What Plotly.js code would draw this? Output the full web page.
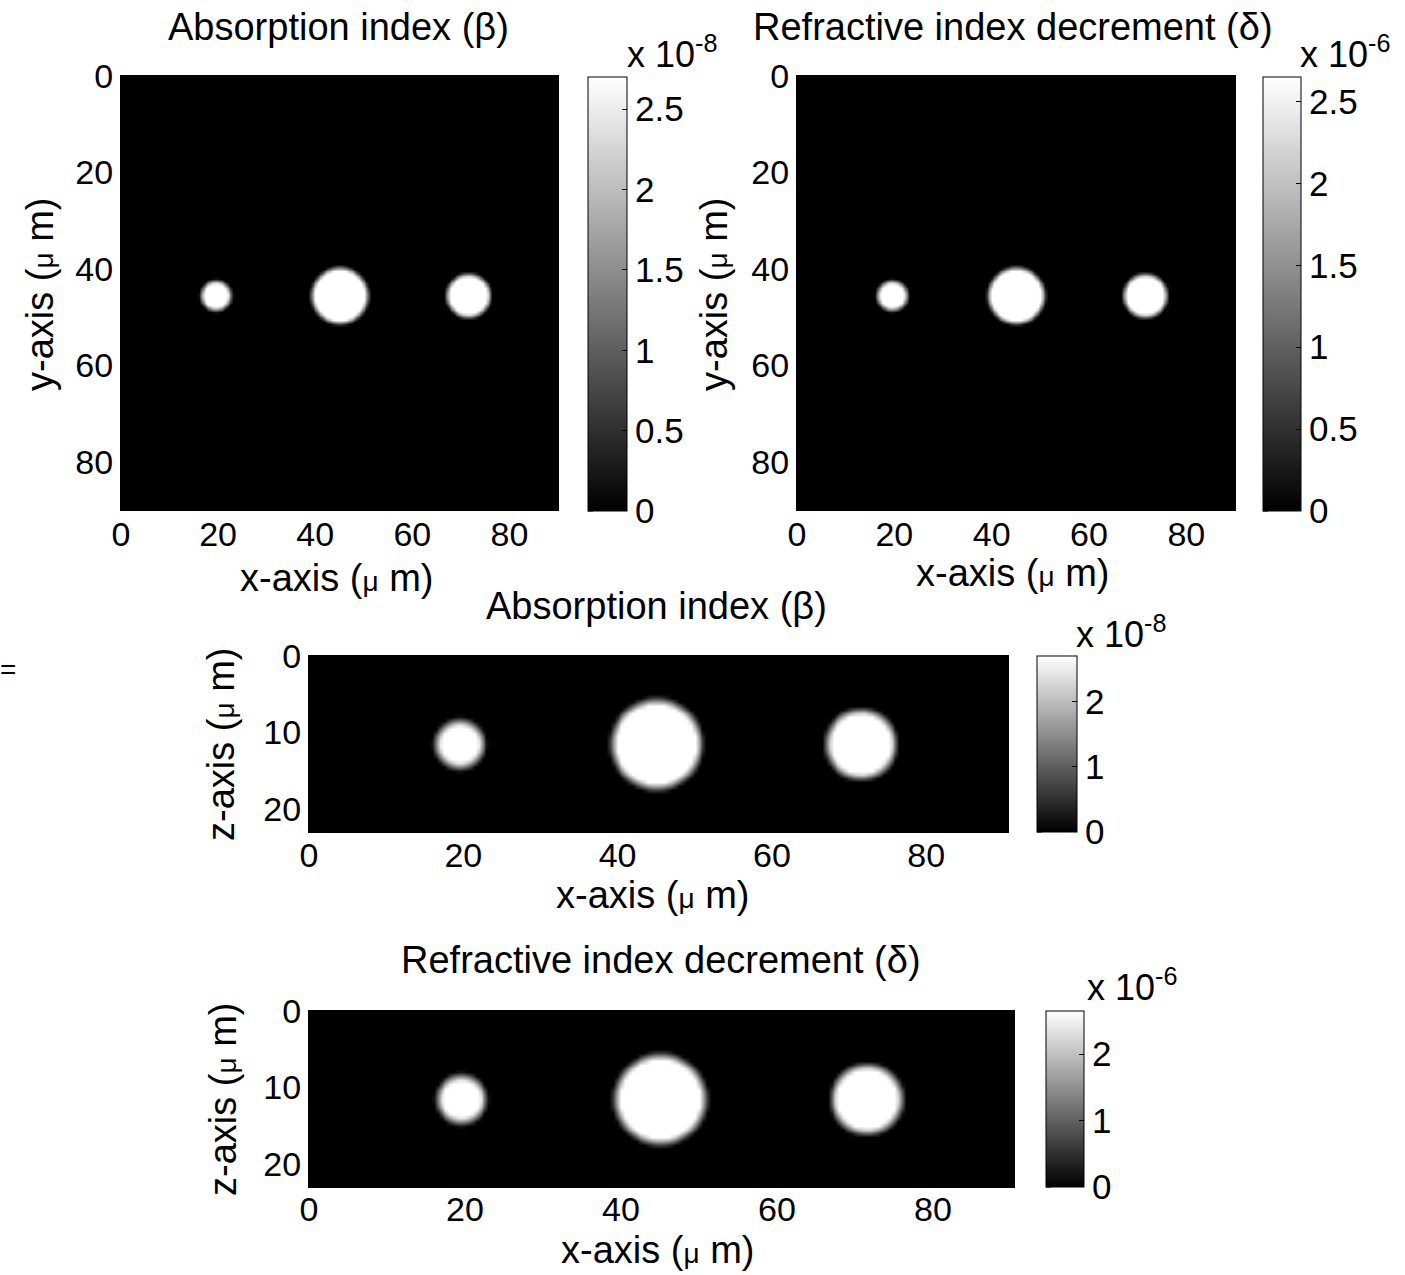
<!DOCTYPE html>
<html>
<head>
<meta charset="utf-8">
<script src="https://cdn.plot.ly/plotly-3.0.1.min.js"></script>
<style>html,body{margin:0;padding:0;background:#fff;}#chart{width:1405px;height:1275px;}</style>
</head>
<body>
<div id="chart"></div>
<script>
// ---- data ----
// spheres of the phantom (micrometres)
const sphereX = [19.5, 45.0, 71.5];
const sphereY = [45.5, 45.5, 45.5];
const sphereZ = [11.5, 11.5, 11.5];
const sphereR = [3.0, 5.7, 4.4];
const sphereEdge = [1.2, 1.2, 1.2];        // width of the blurred rim
const betaPeak = 2.7e-8;                   // absorption index of spheres
const deltaPeak = 2.65e-6;                 // refractive index decrement
const backgroundValue = 0;
// grid extents
const xExtent = [0, 91];
const yExtent = [0, 90];
const zExtent = [0, 23];
const gridStep = 0.5;
// tick labels
const xyTicks = [0, 20, 40, 60, 80];
const zTicks = [0, 10, 20];
const cbTicksTop = [0, 0.5, 1, 1.5, 2, 2.5];
const cbTicksTopText = ['0', '0.5', '1', '1.5', '2', '2.5'];
const cbTicksBottom = [0, 1, 2];
const cbTicksBottomText = ['0', '1', '2'];
const betaExp = -8;
const deltaExp = -6;
const titles = ['Absorption index (\u03b2)', 'Refractive index decrement (\u03b4)'];

// ---- build the phantom slices ----
function axisPoints(ext) {
  const a = [];
  for (let v = ext[0]; v <= ext[1] + 1e-9; v += gridStep) a.push(+v.toFixed(3));
  return a;
}
const xs = axisPoints(xExtent), ys = axisPoints(yExtent), zs = axisPoints(zExtent);
function slice(rowCoords, rowCentres, peak) {
  return rowCoords.map(r => xs.map(x => {
    let best = backgroundValue;
    for (let i = 0; i < sphereX.length; i++) {
      const d = Math.hypot(x - sphereX[i], r - rowCentres[i]);
      const f = Math.min(1, Math.max(0, (sphereR[i] - d) / sphereEdge[i] + 0.5));
      best = Math.max(best, f * peak);
    }
    return best;
  }));
}
const betaXY = slice(ys, sphereY, betaPeak);
const deltaXY = slice(ys, sphereY, deltaPeak);
const betaXZ = slice(zs, sphereZ, betaPeak);
const deltaXZ = slice(zs, sphereZ, deltaPeak);

// ---- layout helpers (pixel boxes) ----
const W = 1405, H = 1275;
const FONT = 'Liberation Sans, Arial, Helvetica, sans-serif';
const FS = 34;      // tick labels
const LFS = 38;     // titles and axis labels
const px = v => v / W, py = v => 1 - v / H;
const gray = [[0, '#000000'], [1, '#ffffff']];

function cb(box, exp, ticks, text) {
  const s = Math.pow(10, exp);
  return {
    x: px(box[0]), xanchor: 'left', xpad: 0,
    y: py(box[3]), yanchor: 'bottom', ypad: 0,
    len: box[3] - box[1], lenmode: 'pixels',
    thickness: box[2] - box[0], thicknessmode: 'pixels',
    outlinewidth: 1, outlinecolor: '#000',
    ticks: 'inside', ticklen: 5, tickcolor: '#000',
    tickvals: ticks.map(t => t * s), ticktext: text,
    tickfont: {family: FONT, size: FS + 1, color: '#000'}
  };
}
// left-side colorbar tick marks (MATLAB draws ticks on both sides)
function cbLeftTicks(box, peak, exp, ticks) {
  const s = Math.pow(10, exp);
  return ticks.map(t => {
    const yy = box[3] - (t * s / peak) * (box[3] - box[1]);
    return {type: 'line', xref: 'paper', yref: 'paper',
      x0: px(box[0]), x1: px(box[0] + 5), y0: py(yy), y1: py(yy),
      line: {color: '#000', width: 1}};
  });
}
function hm(z, rows, xa, ya, peak, cbar) {
  return {type: 'heatmap', x: xs, y: rows, z: z, xaxis: xa, yaxis: ya,
    colorscale: gray, zmin: 0, zmax: peak, zsmooth: 'best',
    colorbar: cbar, hoverinfo: 'skip'};
}

const P1 = [121, 76, 558, 510], P2 = [797, 76, 1235, 510];
const P3 = [309, 656, 1008, 832], P4 = [309, 1011, 1014, 1187];
const C1 = [588, 77, 627, 511], C2 = [1263, 77, 1301, 511];
const C3 = [1037, 656, 1077, 832], C4 = [1046, 1011, 1084, 1187];

const traces = [
  hm(betaXY, ys, 'x', 'y', betaPeak, cb(C1, betaExp, cbTicksTop, cbTicksTopText)),
  hm(deltaXY, ys, 'x2', 'y2', deltaPeak, cb(C2, deltaExp, cbTicksTop, cbTicksTopText)),
  hm(betaXZ, zs, 'x3', 'y3', betaPeak, cb(C3, betaExp, cbTicksBottom, cbTicksBottomText)),
  hm(deltaXZ, zs, 'x4', 'y4', deltaPeak, cb(C4, deltaExp, cbTicksBottom, cbTicksBottomText))
];

function xax(box, range, anchor, standoff) {
  return {domain: [px(box[0]), px(box[2])], range: range, anchor: anchor,
    tickvals: xyTicks, ticks: 'inside', ticklen: 6, tickcolor: '#000',
    showline: true, linecolor: '#000', linewidth: 1, mirror: 'ticks',
    showgrid: false, zeroline: false, ticklabelstandoff: standoff,
    tickfont: {family: FONT, size: FS, color: '#000'}};
}
function yax(box, range, ticks, anchor) {
  return {domain: [py(box[3]), py(box[1])], range: range, anchor: anchor,
    tickvals: ticks, ticks: 'inside', ticklen: 6, tickcolor: '#000',
    showline: true, linecolor: '#000', linewidth: 1, mirror: 'ticks',
    showgrid: false, zeroline: false,
    tickfont: {family: FONT, size: FS, color: '#000'}};
}

const mu = '<span style="font-size:28px">\u03bc</span>';
const annFont = {family: FONT, size: LFS, color: '#000'};
function ann(text, x, y, extra) {
  return Object.assign({text: text, x: px(x), y: py(y), xref: 'paper', yref: 'paper',
    showarrow: false, font: annFont, xanchor: 'center', yanchor: 'middle'}, extra || {});
}
const expText = e => 'x 10<sup>' + e + '</sup>';
const expFont = {font: {family: FONT, size: 36, color: '#000'}};

const layout = {
  width: W, height: H, margin: {l: 0, r: 0, t: 0, b: 0},
  paper_bgcolor: '#fff', plot_bgcolor: '#fff', showlegend: false,
  font: {family: FONT, size: FS, color: '#000'},
  xaxis: xax(P1, [0, 90], 'y', -6),
  yaxis: yax(P1, [yExtent[1], yExtent[0]], xyTicks, 'x'),
  xaxis2: xax(P2, [0, 90], 'y2', -6),
  yaxis2: yax(P2, [yExtent[1], yExtent[0]], xyTicks, 'x2'),
  xaxis3: xax(P3, [0, 90.6], 'y3', -7),
  yaxis3: yax(P3, [zExtent[1], zExtent[0]], zTicks, 'x3'),
  xaxis4: xax(P4, [0, 90.4], 'y4', -8),
  yaxis4: yax(P4, [zExtent[1], zExtent[0]], zTicks, 'x4'),
  shapes: [].concat(
    cbLeftTicks(C1, betaPeak, betaExp, cbTicksTop),
    cbLeftTicks(C2, deltaPeak, deltaExp, cbTicksTop),
    cbLeftTicks(C3, betaPeak, betaExp, cbTicksBottom),
    cbLeftTicks(C4, deltaPeak, deltaExp, cbTicksBottom)
  ),
  annotations: [
    ann(titles[0], 338, 27),
    ann(titles[1], 1013, 27),
    ann(titles[0], 656, 606),
    ann(titles[1], 661, 960),
    ann('x-axis (' + mu + ' m)', 336, 578),
    ann('x-axis (' + mu + ' m)', 1012, 573),
    ann('x-axis (' + mu + ' m)', 652, 895),
    ann('x-axis (' + mu + ' m)', 657, 1250),
    ann('y-axis (' + mu + ' m)', 40, 295, {textangle: -90}),
    ann('y-axis (' + mu + ' m)', 714, 295, {textangle: -90}),
    ann('z-axis (' + mu + ' m)', 221, 745, {textangle: -90}),
    ann('z-axis (' + mu + ' m)', 223, 1100, {textangle: -90}),
    ann(expText(betaExp), 672, 52, expFont),
    ann(expText(deltaExp), 1345, 52, expFont),
    ann(expText(betaExp), 1121, 632, expFont),
    ann(expText(deltaExp), 1132, 985, expFont),
    ann('=', -2, 669, {xanchor: 'left', font: {family: FONT, size: 28, color: '#000'}})
  ]
};

Plotly.newPlot('chart', traces, layout, {staticPlot: true, displayModeBar: false});
</script>
</body>
</html>
